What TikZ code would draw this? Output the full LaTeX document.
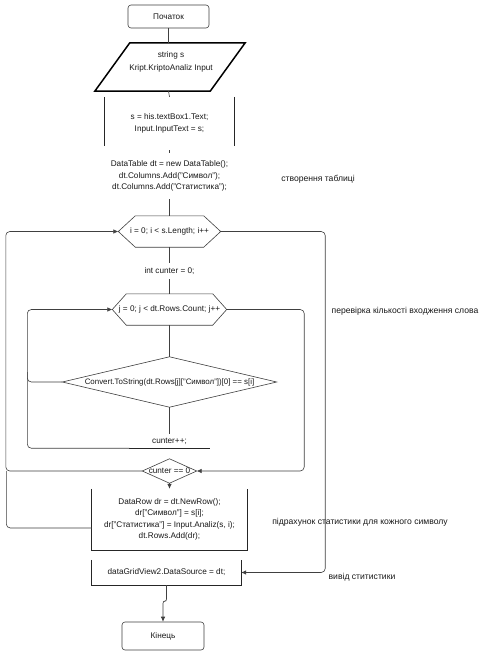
\documentclass[tikz,border=0pt]{standalone}
\usepackage{fontspec}
\setmainfont{Liberation Sans}
\usetikzlibrary{arrows.meta,calc}
\begin{document}
\begin{tikzpicture}[x=1pt,y=-1pt,
  every node/.style={font=\fontsize{8.2}{11.5}\selectfont, inner sep=0pt, align=center, text=black!90},
  ln/.style={draw=black!75, line width=0.6pt},
  side/.style={draw=black!85, line width=0.8pt},
  arr/.style={ln, -{Latex[length=5pt,width=4.5pt]}},
  lbl/.style={font=\fontsize{8.6}{10}\selectfont}
  ]
\useasboundingbox[fill=white] (0,0) rectangle (483,656);

% nodes
\node[ln, rounded corners=3pt, minimum width=81pt, minimum height=23pt] (start) at (168.5,16.5) {Початок};
\node[minimum width=150pt, minimum height=48pt] (input) at (170,67) {};
\node (inputtxt) at (171,62) {string s\\[2pt]Kript.KriptoAnaliz Input};
\node[minimum width=129pt, minimum height=53pt] (p1) at (169.5,123.5) {s = his.textBox1.Text;\\Input.InputText = s;};
\node[minimum width=130pt, minimum height=46pt] (p2) at (169.5,176) {DataTable dt = new DataTable();\\dt.Columns.Add("Символ");\\dt.Columns.Add("Статистика");};
\node[minimum width=102pt, minimum height=31pt] (hexI) at (169.5,231.5) {i = 0; i < s.Length; i++};
\node[minimum width=60pt, minimum height=16pt] (init) at (169.5,271) {int cunter = 0;};
\node[minimum width=114pt, minimum height=31pt] (hexJ) at (169.5,309.5) {j = 0; j < dt.Rows.Count; j++};
\node[minimum width=214pt, minimum height=50pt, font=\fontsize{7.9}{10}\selectfont] (cond) at (169.5,382) {Convert.ToString(dt.Rows[j]["Символ"])[0] == s[i]};
\node[minimum width=80pt, minimum height=14pt] (cpp) at (169.5,441) {cunter++;};
\node[minimum width=54pt, minimum height=24pt] (cz) at (169.5,471) {cunter == 0};
\node[minimum width=155pt, minimum height=61pt] (dr) at (169.5,519.5) {DataRow dr = dt.NewRow();\\dr["Символ"] = s[i];\\dr["Статистика"] = Input.Analiz(s, i);\\dt.Rows.Add(dr);};
\node[minimum width=149pt, minimum height=25pt] (dg) at (166.5,572.5) {dataGridView2.DataSource = dt;};
\node[ln, rounded corners=3pt, minimum width=82pt, minimum height=28pt] (end) at (163,636) {Кінець};

% side labels
\node[lbl] (l1) at (318,179.5) {створення таблиці};
\node[lbl] (l2) at (405,311) {перевірка кількості входження слова};
\node[lbl] (l3) at (360,522) {підрахунок статистики для кожного символу};
\node[lbl] (l4) at (362,577.5) {вивід ститистики};

% shapes
\draw[line width=1.5pt, draw=black] (input.south west) -- ($(input.north west)+(35,0)$) -- (input.north east) -- ($(input.south east)+(-35,0)$) -- cycle;
\draw[side] (p1.north west) -- ++(0,49);
\draw[side] (p1.north east) -- ++(0,49);
\draw[ln] (hexI.west) -- ($(hexI.north west)+(17,0)$) -- ($(hexI.north east)+(-17,0)$) -- (hexI.east) -- ($(hexI.south east)+(-17,0)$) -- ($(hexI.south west)+(17,0)$) -- cycle;
\draw[ln] (hexJ.west) -- ($(hexJ.north west)+(14,0)$) -- ($(hexJ.north east)+(-14,0)$) -- (hexJ.east) -- ($(hexJ.south east)+(-14,0)$) -- ($(hexJ.south west)+(14,0)$) -- cycle;
\draw[ln] (cond.west) -- (cond.north) -- (cond.east) -- (cond.south) -- cycle;
\draw[ln] (cz.west) -- (cz.north) -- (cz.east) -- (cz.south) -- cycle;
\draw[side] (cpp.south west) -- (cpp.south east);
\draw[side] (dr.north west) -- (dr.south west) -- (dr.south east) -- (dr.north east);
\draw[side] (dg.north west) -- (dg.south west) -- (dg.south east) -- (dg.north east);

% connectors
\draw[ln] (start) -- (input.north -| start.south);
\draw[ln] (input.south -| start.south) -- (p1.north);
\draw[ln] (p1.south) -- (p2.north);
\draw[ln] (p2.south) -- (hexI.north);
\draw[ln] (hexI.south) -- (init.north);
\draw[ln] (init.south) -- (hexJ.north);
\draw[ln] (hexJ.south) -- (cond.north);
\draw[ln] (cond.south) -- (cpp.north);
\draw[arr, rounded corners=4pt] (cpp.south west) -- ++(-102,0) |- (hexJ.west);
\draw[ln, rounded corners=4pt] (cond.west) -- ++(-35,0) -- ++(0,-10);
\draw[arr, rounded corners=4pt] (hexJ.east) -- ++(77.5,0) |- (cz.east);
\draw[arr] (cz.south) -- (dr.north);
\draw[arr, rounded corners=4pt] (cz.west) -- ++(-136.5,0) |- (hexI.west);
\draw[ln, rounded corners=4pt] ($(dr.west)+(0,8.5)$) -- ++(-85.5,0) -- ++(0,-57);
\draw[arr, rounded corners=4pt] (hexI.east) -- ++(104.5,0) |- (dg.east);
\draw[arr, rounded corners=2pt] (dg.south) -- ++(0,16) -| (end.north);
\end{tikzpicture}
\end{document}
